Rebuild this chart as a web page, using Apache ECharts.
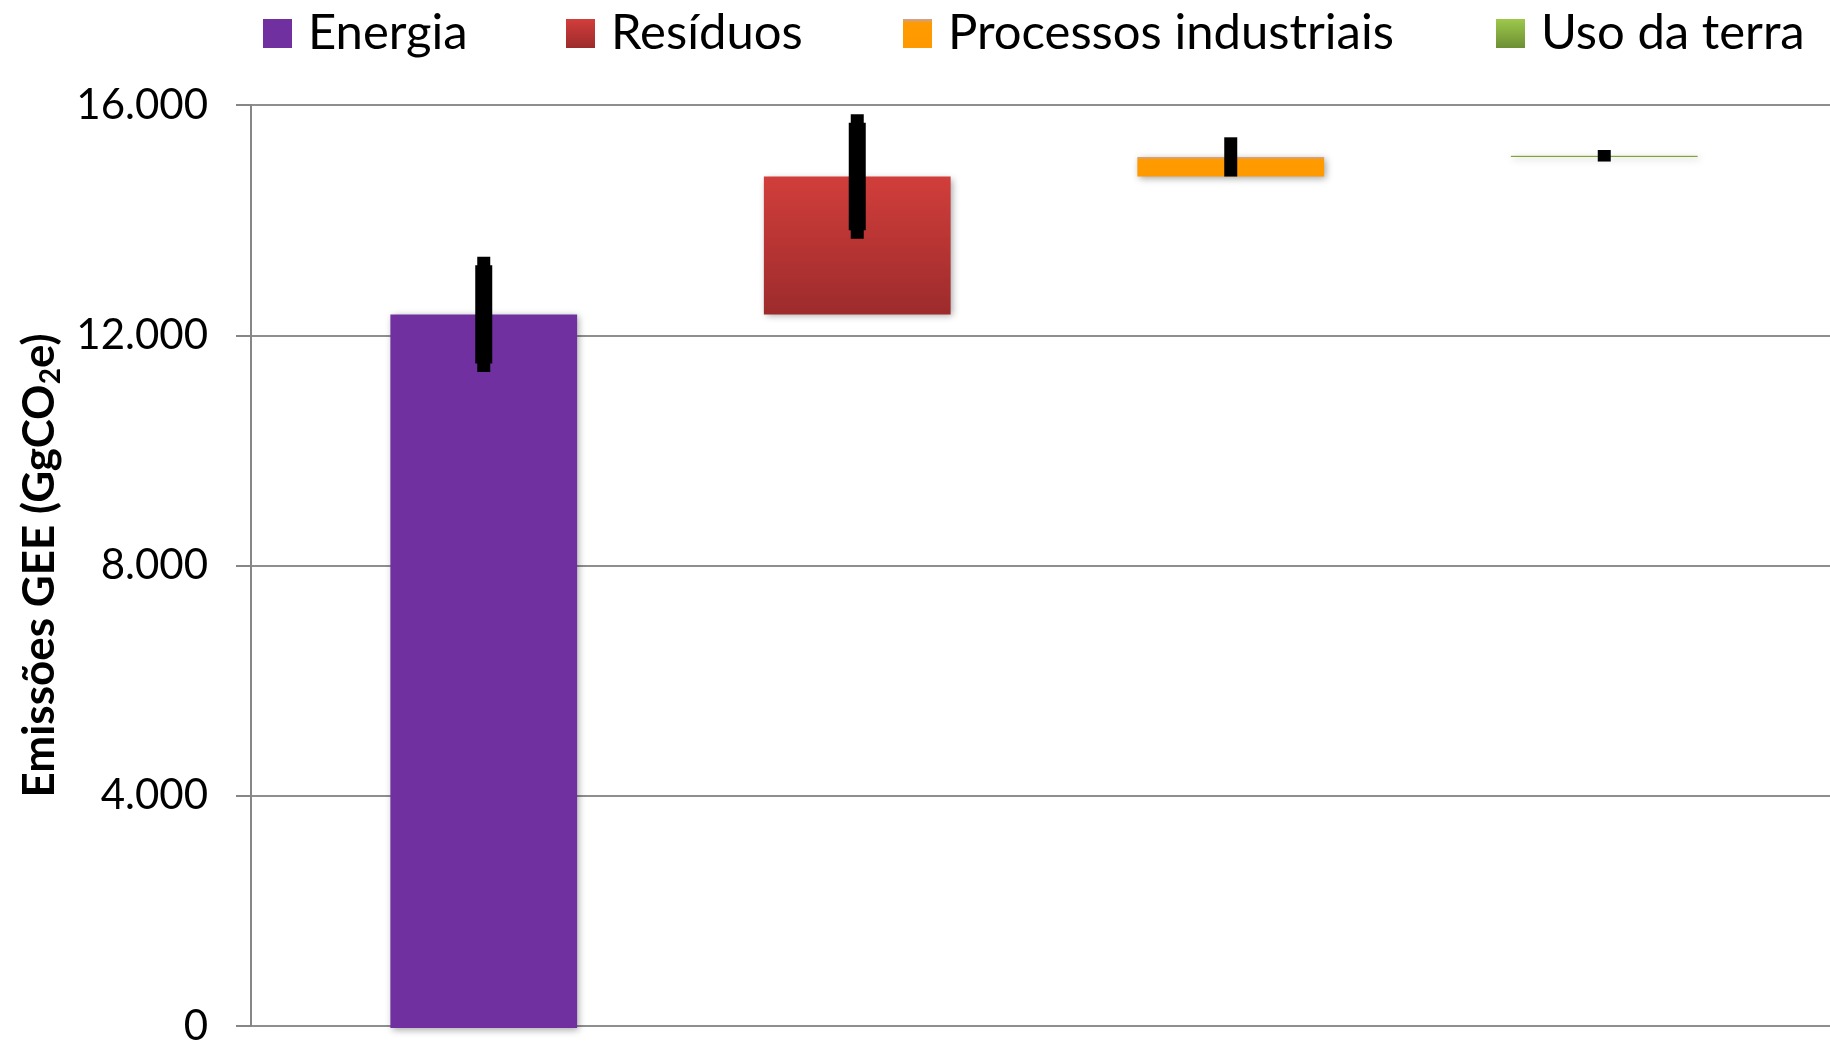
<!DOCTYPE html>
<html>
<head>
<meta charset="utf-8">
<script src="https://cdn.jsdelivr.net/npm/echarts@6/dist/echarts.min.js"></script>
<style>
  html, body { margin: 0; padding: 0; background: #ffffff; }
  #chart { width: 1830px; height: 1047px; }
</style>
</head>
<body>
<div id="chart"></div>
<script>
// ---- data ----
const categories = ['Energia', 'Resíduos', 'Processos industriais', 'Uso da terra'];
const values = [12370, 2390, 340, 20];          // GgCO2e contribution of each sector
const errors = [1000, 1080, 340, 100];          // uncertainty (+/-) at cumulative top
const yTicks = [0, 4000, 8000, 12000, 16000];
const yMin = 0, yMax = 16000, yInterval = 4000;

// waterfall offsets derived from the values
const starts = [];
let acc = 0;
for (let i = 0; i < values.length; i++) { starts.push(acc); acc += values[i]; }
const tops = values.map((v, i) => starts[i] + v);

const seriesColors = [
  '#7030A0',
  { type: 'linear', x: 0, y: 0, x2: 0, y2: 1, colorStops: [{ offset: 0, color: '#D13E3B' }, { offset: 1, color: '#9D2B2C' }] },
  { type: 'linear', x: 0, y: 0, x2: 0, y2: 1, colorStops: [{ offset: 0, color: '#C7A39F' }, { offset: 0.14, color: '#FF9A00' }, { offset: 1, color: '#FF9900' }] },
  { type: 'linear', x: 0, y: 0, x2: 0, y2: 1, colorStops: [{ offset: 0, color: '#9DC84B' }, { offset: 1, color: '#6D8F34' }] }
];
const legendLefts = [263, 566, 903, 1496];

const chart = echarts.init(document.getElementById('chart'), null, { renderer: 'canvas' });

const fmt = v => {
  const s = String(Math.round(v));
  return s.replace(/\B(?=(\d{3})+(?!\d))/g, '.');
};

const barSeries = categories.map((name, i) => ({
  name: name,
  type: 'bar',
  stack: 'w',
  xAxisIndex: 1,
  yAxisIndex: 1,
  barWidth: '50%',
  data: categories.map((c, j) => (j === i ? values[i] : '-')),
  itemStyle: {
    color: seriesColors[i],
    shadowBlur: 7,
    shadowColor: 'rgba(0,0,0,0.35)',
    shadowOffsetX: 2,
    shadowOffsetY: 2
  },
  emphasis: { disabled: true },
  z: 3
}));

const option = {
  backgroundColor: '#ffffff',
  animation: false,
  legend: categories.map((name, i) => ({
    data: [name],
    left: legendLefts[i],
    top: 9,
    padding: 0,
    icon: 'rect',
    itemWidth: 29,
    itemHeight: 29,
    itemStyle: { shadowBlur: 0, shadowOffsetX: 0, shadowOffsetY: 0 },
    selectedMode: false,
    textStyle: { fontFamily: 'Lato', fontSize: 49, color: '#000000', padding: [0, 0, 0, 11] }
  })),
  grid: [
    { left: 251, right: 0, top: 105, bottom: 19 },
    { left: 297, right: 39, top: 105, bottom: 19 }
  ],
  xAxis: [
    { type: 'category', gridIndex: 0, data: categories, show: false },
    { type: 'category', gridIndex: 1, data: categories, show: false }
  ],
  yAxis: [
    {
      type: 'value', gridIndex: 0, min: yMin, max: yMax, interval: yInterval,
      axisLine: { show: true, lineStyle: { color: '#868686', width: 2 } },
      axisTick: { show: true, length: 15, lineStyle: { color: '#868686', width: 2 } },
      splitLine: { show: true, lineStyle: { color: '#8E8E8E', width: 2 } },
      axisLabel: {
        margin: 43,
        fontFamily: 'Lato',
        fontSize: 42, color: '#000000',
        formatter: v => (yTicks.indexOf(v) >= 0 ? fmt(v) : '')
      },
      name: 'Emissões GEE (GgCO{sub|2}e)',
      nameLocation: 'middle',
      nameGap: 183,
      nameRotate: 90,
      nameTextStyle: {
        fontFamily: 'Lato', fontWeight: 'bold', fontSize: 44, color: '#000000',
        rich: {
          sub: { fontFamily: 'Lato', fontWeight: 'bold', fontSize: 28, color: '#000000', verticalAlign: 'top', padding: [24, 0, 0, 0] }
        }
      }
    },
    { type: 'value', gridIndex: 1, min: yMin, max: yMax, interval: yInterval, show: false }
  ],
  series: [
    {
      name: '_base', type: 'bar', stack: 'w', xAxisIndex: 1, yAxisIndex: 1, barWidth: '50%',
      data: starts, itemStyle: { color: 'rgba(0,0,0,0)' }, silent: true, emphasis: { disabled: true }, z: 2
    },
    ...barSeries,
    {
      name: '_err', type: 'custom', xAxisIndex: 1, yAxisIndex: 1, silent: true, z: 10,
      data: categories.map((c, i) => [i, tops[i], errors[i]]),
      renderItem: function (params, api) {
        const idx = api.value(0), top = api.value(1), err = api.value(2);
        const hi = api.coord([idx, top + err]);
        const lo = api.coord([idx, top - err]);
        const h = lo[1] - hi[1];
        const inset = 8.5;
        const children = [
          { type: 'rect', shape: { x: hi[0] - 6.5, y: hi[1], width: 13, height: h }, style: { fill: '#000000' } }
        ];
        if (h > 60) {
          children.push({ type: 'rect', shape: { x: hi[0] - 8.5, y: hi[1] + inset, width: 17, height: h - 2 * inset }, style: { fill: '#000000' } });
        }
        return { type: 'group', children: children };
      }
    }
  ]
};

chart.setOption(option);
</script>
</body>
</html>
